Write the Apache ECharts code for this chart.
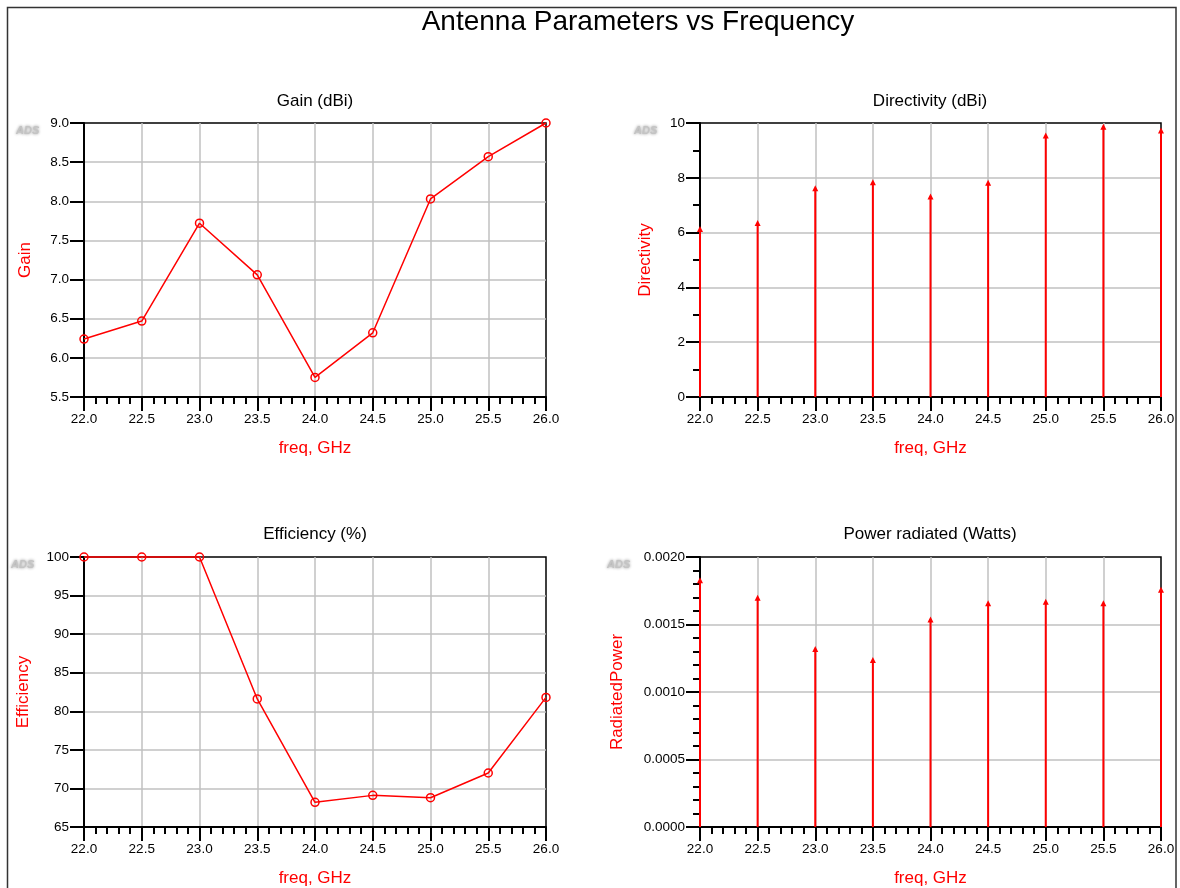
<!DOCTYPE html>
<html>
<head>
<meta charset="utf-8">
<script src="https://cdn.jsdelivr.net/npm/echarts@6/dist/echarts.min.js"></script>
<style>
  html, body { margin: 0; padding: 0; background: #fff; }
  #chart { width: 1180px; height: 888px; }
</style>
</head>
<body>
<div id="chart"></div>
<script>
// Sweep points (GHz) and the four simulated antenna quantities
const freq = [22.0, 22.5, 23.0, 23.5, 24.0, 24.5, 25.0, 25.5, 26.0];
const gain = [6.24, 6.47, 7.72, 7.06, 5.75, 6.32, 8.03, 8.57, 9.00];
const directivity = [6.24, 6.46, 7.73, 7.95, 7.43, 7.93, 9.65, 9.97, 9.84];
const efficiency = [100, 100, 100, 81.6, 68.2, 69.1, 68.8, 72.0, 81.8];
const radiatedPower = [0.00185, 0.00172, 0.00134, 0.00126, 0.00156, 0.00168, 0.00169, 0.00168, 0.00178];

const FONT = 'Liberation Sans, Arial, Helvetica, sans-serif';
const RED = '#ff0000';

const pairs = (ys) => freq.map((f, i) => [f, ys[i]]);

// Plot rectangles, one per panel
const grids = [
  { left: 84,  top: 123, width: 462, height: 274 },
  { left: 700, top: 123, width: 461, height: 274 },
  { left: 84,  top: 557, width: 462, height: 274 },
  { left: 700, top: 557, width: 461, height: 274 }
].map(g => Object.assign(g, { show: true, borderColor: '#000', borderWidth: 1.5, backgroundColor: 'transparent', containLabel: false }));

function xAxisFor(i) {
  return {
    type: 'value', gridIndex: i, min: 22, max: 26, interval: 0.5,
    axisLine: { show: true, onZero: false, lineStyle: { color: '#000', width: 2 } },
    axisTick: { show: true, length: 14, lineStyle: { color: '#000', width: 2 } },
    minorTick: { show: true, splitNumber: 5, length: 7, lineStyle: { color: '#000', width: 2 } },
    axisLabel: { margin: 15, color: '#000', fontSize: 13.5, fontFamily: FONT,
                 showMinLabel: true, showMaxLabel: true, formatter: v => v.toFixed(1) },
    splitLine: { show: true, showMinLine: false, showMaxLine: false, lineStyle: { color: '#c0c0c0', width: 1.5 } },
    minorSplitLine: { show: false },
    name: 'freq, GHz', nameLocation: 'middle', nameGap: 43,
    nameTextStyle: { color: RED, fontSize: 17, fontFamily: FONT }
  };
}

function yAxisFor(i, o) {
  return {
    type: 'value', gridIndex: i, min: o.min, max: o.max, interval: o.interval,
    axisLine: { show: true, onZero: false, lineStyle: { color: '#000', width: 2 } },
    axisTick: { show: true, length: 14, lineStyle: { color: '#000', width: 2 } },
    minorTick: { show: !!o.minor, splitNumber: o.minor || 5, length: 7, lineStyle: { color: '#000', width: 2 } },
    axisLabel: { margin: 15, color: '#000', fontSize: 13.5, fontFamily: FONT,
                 showMinLabel: true, showMaxLabel: true, formatter: v => v.toFixed(o.digits) },
    splitLine: { show: true, showMinLine: false, showMaxLine: false, lineStyle: { color: '#c0c0c0', width: 1.5 } },
    name: o.name, nameLocation: 'middle', nameGap: o.gap,
    nameTextStyle: { color: RED, fontSize: 17, fontFamily: FONT }
  };
}

function lineSeries(i, ys) {
  return {
    type: 'line', xAxisIndex: i, yAxisIndex: i, data: pairs(ys), clip: false,
    symbol: 'circle', symbolSize: 8,
    lineStyle: { color: RED, width: 1.5 },
    itemStyle: { color: 'rgba(255,255,255,0)', borderColor: RED, borderWidth: 1.5 },
    z: 5
  };
}

// Vertical stem from zero up to the value, capped with a small arrowhead
function stemSeries(i, ys) {
  return {
    type: 'custom', xAxisIndex: i, yAxisIndex: i, data: pairs(ys), clip: false, z: 5,
    renderItem(params, api) {
      const x = api.value(0), v = api.value(1);
      const tip = api.coord([x, v]);
      const base = api.coord([x, 0]);
      return {
        type: 'group',
        children: [
          { type: 'line', shape: { x1: tip[0], y1: tip[1] + 3, x2: base[0], y2: base[1] },
            style: { stroke: RED, lineWidth: 2 } },
          { type: 'polygon', shape: { points: [[tip[0], tip[1]], [tip[0] - 3, tip[1] + 6], [tip[0] + 3, tip[1] + 6]] },
            style: { fill: RED } }
        ]
      };
    }
  };
}

function titleAt(text, x, y) {
  return { text, left: x, top: y, textAlign: 'center', padding: 0,
           textStyle: { color: '#000', fontSize: 17, fontWeight: 'normal', fontFamily: FONT } };
}

function adsMark(x, y) {
  return { type: 'text', left: x, top: y, silent: true,
           style: { text: 'ADS', fill: '#c4c4c4', font: 'italic bold 11px ' + FONT,
                    textShadowColor: '#8a8a8a', textShadowBlur: 3 } };
}

const chart = echarts.init(document.getElementById('chart'), null, { renderer: 'canvas' });
chart.setOption({
  animation: false,
  backgroundColor: '#fff',
  title: [
    { text: 'Antenna Parameters vs Frequency', left: 638, top: 8, textAlign: 'center', padding: 0,
      textStyle: { color: '#000', fontSize: 28, fontWeight: 'normal', fontFamily: FONT } },
    titleAt('Gain (dBi)', 315, 93),
    titleAt('Directivity (dBi)', 930, 93),
    titleAt('Efficiency (%)', 315, 526),
    titleAt('Power radiated (Watts)', 930, 526)
  ],
  grid: grids,
  xAxis: [0, 1, 2, 3].map(xAxisFor),
  yAxis: [
    yAxisFor(0, { min: 5.5, max: 9, interval: 0.5, digits: 1, name: 'Gain', gap: 50 }),
    yAxisFor(1, { min: 0, max: 10, interval: 2, digits: 0, minor: 2, name: 'Directivity', gap: 46 }),
    yAxisFor(2, { min: 65, max: 100, interval: 5, digits: 0, name: 'Efficiency', gap: 52 }),
    yAxisFor(3, { min: 0, max: 0.002, interval: 0.0005, digits: 4, minor: 5, name: 'RadiatedPower', gap: 74 })
  ],
  series: [
    lineSeries(0, gain),
    stemSeries(1, directivity),
    lineSeries(2, efficiency),
    stemSeries(3, radiatedPower)
  ],
  graphic: [
    { type: 'rect', silent: true, shape: { x: 7.5, y: 7.5, width: 1168.5, height: 900 },
      style: { fill: null, stroke: '#333', lineWidth: 1.5 } },
    adsMark(16, 125),
    adsMark(634, 125),
    adsMark(11, 559),
    adsMark(607, 559)
  ]
});
</script>
</body>
</html>
